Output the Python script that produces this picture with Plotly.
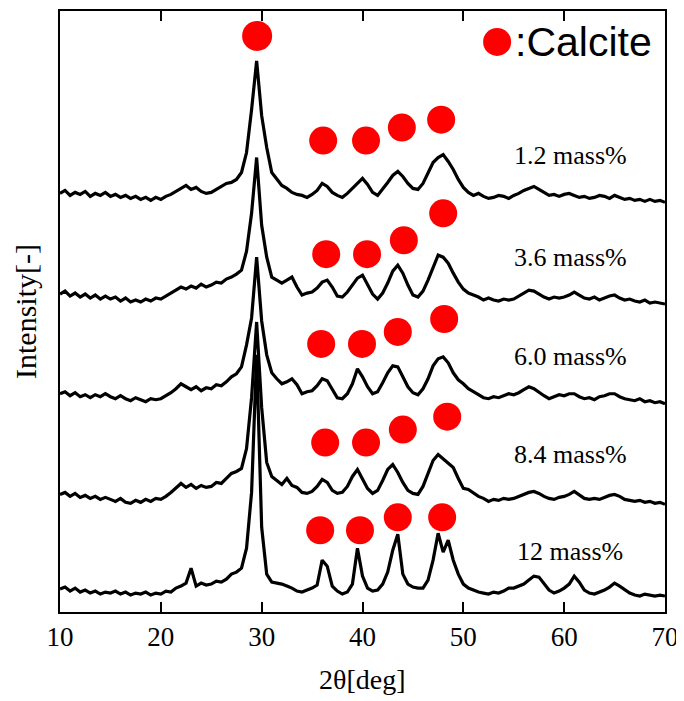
import plotly.graph_objects as go

# 2-theta grid (deg)
two_theta = [10 + 0.5 * i for i in range(121)]

# Intensity traces (arbitrary units, already offset for stacking)
s_1_2 = [420, 423, 418, 421, 419, 422, 417, 420, 418, 421,
         417, 419, 416, 418, 415, 417, 414, 416, 413, 416,
         414, 417, 419, 422, 425, 428, 424, 426, 422, 420,
         421, 424, 427, 430, 431, 434, 441, 461, 504, 553,
         498, 466, 441, 434, 428, 425, 421, 419, 418, 416,
         419, 423, 430, 427, 421, 418, 416, 420, 425, 430,
         435, 429, 421, 418, 424, 431, 438, 442, 437, 430,
         425, 424, 430, 440, 451, 456, 459, 452, 444, 434,
         426, 421, 418, 420, 417, 415, 416, 418, 417, 415,
         418, 420, 423, 425, 427, 424, 421, 418, 419, 417,
         419, 420, 418, 416, 417, 415, 416, 418, 417, 415,
         418, 416, 414, 415, 413, 414, 412, 414, 412, 413,
         411]
s_3_6 = [319, 322, 317, 320, 316, 319, 315, 318, 314, 317,
         314, 316, 312, 315, 311, 313, 311, 314, 312, 315,
         314, 317, 320, 323, 326, 324, 327, 325, 329, 326,
         328, 331, 330, 334, 336, 339, 343, 362, 400, 456,
         388, 356, 336, 333, 330, 333, 336, 326, 318, 320,
         321, 325, 331, 333, 326, 317, 316, 321, 328, 335,
         338, 328, 319, 314, 320, 330, 342, 348, 340, 328,
         318, 316, 322, 333, 346, 358, 356, 350, 340, 331,
         324, 320, 318, 316, 313, 315, 313, 312, 314, 313,
         314, 317, 320, 323, 322, 319, 316, 314, 316, 315,
         316, 318, 321, 318, 315, 314, 316, 313, 315, 317,
         318, 315, 313, 314, 312, 311, 313, 310, 311, 310,
         309]
s_6_0 = [219, 221, 217, 220, 216, 218, 215, 218, 216, 219,
         216, 214, 217, 214, 212, 215, 213, 211, 214, 213,
         214, 217, 220, 224, 229, 226, 223, 226, 222, 225,
         224, 228, 227, 231, 236, 239, 246, 268, 295, 356,
         292, 258, 240, 234, 229, 231, 234, 228, 219, 221,
         222, 227, 234, 232, 224, 215, 214, 219, 229, 244,
         236, 226, 219, 221, 230, 240, 247, 246, 236, 226,
         220, 218, 224, 234, 247, 254, 256, 250, 240, 233,
         229, 224, 221, 218, 215, 214, 216, 215, 217, 219,
         218, 220, 223, 226, 224, 220, 217, 214, 216, 218,
         217, 219, 219, 216, 214, 215, 213, 216, 217, 219,
         219, 216, 214, 213, 212, 214, 211, 212, 210, 211,
         209]
s_8_4 = [118, 120, 116, 119, 115, 117, 114, 116, 113, 115,
         113, 111, 114, 110, 109, 112, 110, 113, 111, 114,
         113, 116, 120, 124, 129, 125, 128, 124, 127, 125,
         126, 130, 129, 134, 139, 141, 144, 164, 215, 291,
         205, 150, 136, 132, 128, 134, 127, 125, 120, 119,
         121, 126, 133, 130, 122, 119, 120, 126, 136, 143,
         134, 124, 119, 122, 132, 143, 148, 140, 130, 122,
         119, 118, 126, 140, 152, 158, 154, 149, 145, 134,
         124, 123, 119, 116, 114, 111, 113, 112, 114, 113,
         114, 116, 118, 120, 121, 119, 116, 114, 113, 115,
         116, 118, 121, 117, 114, 113, 114, 113, 115, 117,
         118, 116, 113, 112, 111, 112, 110, 111, 109, 110,
         108]
s_12 = [23, 25, 21, 24, 20, 22, 19, 21, 18, 20,
        19, 21, 18, 20, 17, 19, 18, 20, 17, 19,
        18, 21, 20, 24, 26, 29, 44, 26, 29, 27,
        28, 31, 30, 33, 38, 40, 44, 64, 120, 258,
        85, 38, 30, 29, 28, 26, 24, 21, 20, 22,
        24, 27, 52, 46, 26, 21, 18, 20, 28, 64,
        36, 24, 21, 22, 28, 40, 62, 78, 38, 28,
        25, 24, 24, 32, 52, 79, 60, 72, 52, 38,
        28, 24, 22, 20, 19, 18, 20, 19, 21, 24,
        24, 26, 28, 32, 36, 35, 28, 22, 19, 21,
        24, 28, 36, 30, 22, 19, 18, 20, 22, 25,
        29, 26, 22, 19, 17, 16, 18, 17, 16, 17,
        16]

series = [s_1_2, s_3_6, s_6_0, s_8_4, s_12]
labels = ["1.2 mass%", "3.6 mass%", "6.0 mass%", "8.4 mass%", "12 mass%"]

# Calcite peak markers
calcite_x = [36.1, 40.35, 43.9, 47.8,
             36.4, 40.45, 44.1, 48.0,
             35.9, 39.95, 43.5, 48.1,
             36.3, 40.35, 44.0, 48.4,
             35.8, 39.75, 43.5, 47.9]
calcite_y = [473, 473, 486, 494,
             359, 359, 373, 400,
             269, 269, 281, 294,
             170, 170, 183, 196,
             82, 82, 95, 95]
main_peak_x = [29.55]
main_peak_y = [578]

x_ticks = [10, 20, 30, 40, 50, 60, 70]

fig = go.Figure()
for s in series:
    fig.add_trace(go.Scatter(x=two_theta, y=s, mode="lines",
                             line=dict(color="black", width=3.2),
                             showlegend=False, hoverinfo="skip"))

fig.add_trace(go.Scatter(x=calcite_x, y=calcite_y, mode="markers",
                         marker=dict(color="#ff0000", size=28, line=dict(width=0)),
                         showlegend=False))
fig.add_trace(go.Scatter(x=main_peak_x, y=main_peak_y, mode="markers",
                         marker=dict(color="#ff0000", size=30, line=dict(width=0)),
                         showlegend=False))
# legend symbol
fig.add_trace(go.Scatter(x=[53.35], y=[572], mode="markers",
                         marker=dict(color="#ff0000", size=28, line=dict(width=0)),
                         showlegend=False))

serif = "Liberation Serif"
label_y = [458, 356, 256, 158, 61]
for lab, ly in zip(labels, label_y):
    fig.add_annotation(x=60.6, y=ly, text=lab, showarrow=False,
                       xanchor="center", yanchor="middle",
                       font=dict(family=serif, size=26, color="black"))

fig.add_annotation(x=54.9, y=572, text=":Calcite", showarrow=False,
                   xanchor="left", yanchor="middle",
                   font=dict(family="Liberation Sans", size=41, color="black"))

fig.add_annotation(xref="paper", yref="paper", x=0.5, y=-0.113,
                   text="2θ[deg]", showarrow=False, xanchor="center", yanchor="middle",
                   font=dict(family=serif, size=28, color="black"))
fig.add_annotation(xref="paper", yref="paper", x=-0.057, y=0.5,
                   text="Intensity[-]", textangle=-90, showarrow=False,
                   xanchor="center", yanchor="middle",
                   font=dict(family=serif, size=30, color="black"))

# page has an 8px body margin; the figure is offset accordingly
fig.update_layout(
    width=676, height=693,
    margin=dict(l=52, r=19, t=1, b=89),
    paper_bgcolor="white", plot_bgcolor="white",
    xaxis=dict(range=[10, 70], tickvals=x_ticks, ticks="inside", ticklen=10,
               tickwidth=2, tickcolor="black", showline=True, linewidth=2,
               linecolor="black", mirror="ticks", showgrid=False, zeroline=False,
               ticklabeloverflow="allow",
               tickfont=dict(family=serif, size=27, color="black")),
    yaxis=dict(range=[0, 603], showticklabels=False, ticks="", showline=True,
               linewidth=2, linecolor="black", mirror=True, showgrid=False,
               zeroline=False),
)

fig.write_html("out.html")
